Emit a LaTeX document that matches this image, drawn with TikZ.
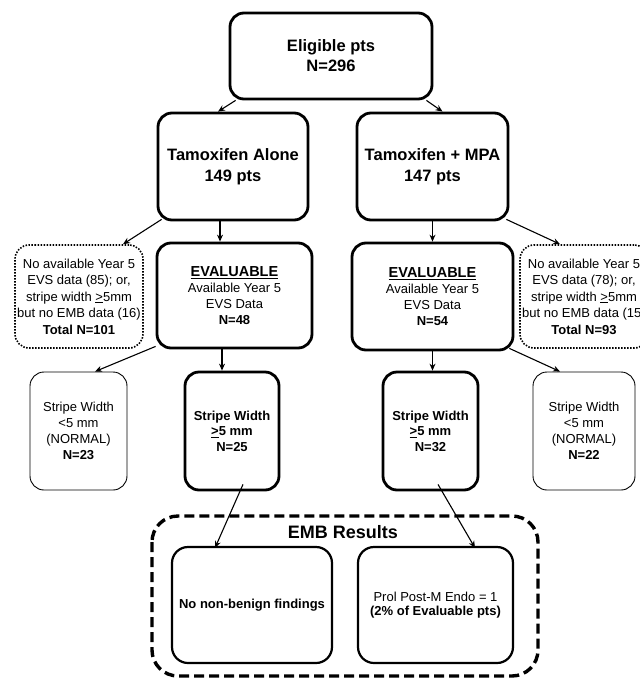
\documentclass[tikz,border=0pt]{standalone}
\usepackage{fontspec}
\setmainfont{Liberation Sans}
\usetikzlibrary{arrows.meta}

\tikzset{
  box/.style={draw, line width=2.8pt, rounded corners=14pt, align=center, inner sep=0pt},
  thinbox/.style={draw, line width=0.9pt, rounded corners=14pt, align=center, inner sep=0pt},
  dotbox/.style={draw, line width=1.6pt, dash pattern=on 1.5pt off 1.5pt, rounded corners=14pt, align=center, inner sep=0pt},
  embbox/.style={draw, line width=2.2pt, rounded corners=16pt, align=center, inner sep=0pt},
  arr/.style={-{Stealth[length=7pt,width=6pt]}, line width=1.1pt}
}

\newcommand{\ulgt}{\underline{>}}

\begin{document}
\begin{tikzpicture}[x=1pt,y=-1pt]

  \useasboundingbox (0,0) rectangle (640,678);

  % Eligible
  \node[box, minimum width=202pt, minimum height=86pt, font=\fontsize{16.5}{20}\selectfont\bfseries]
    (elig) at (331,56) {Eligible pts\\N=296};

  % Arme
  \node[box, minimum width=150pt, minimum height=107pt, font=\fontsize{16.5}{21.5}\selectfont\bfseries]
    (alone) at (233,166.5) {Tamoxifen Alone\\149 pts};
  \node[box, minimum width=151pt, minimum height=107pt, font=\fontsize{16.5}{21.5}\selectfont\bfseries]
    (mpa) at (432.5,166.5) {Tamoxifen + MPA\\147 pts};

  % nicht auswertbar / auswertbar
  \node[dotbox, minimum width=128pt, minimum height=103pt, font=\fontsize{13}{16.5}\selectfont]
    (nodataL) at (79,296.5)
    {No available Year 5\\EVS data (85); or,\\stripe width \ulgt5mm\\but no EMB data (16)\\\textbf{Total N=101}};
  \node[box, minimum width=155pt, minimum height=105pt, font=\fontsize{13}{16}\selectfont]
    (evalL) at (234.5,295.5)
    {{\fontsize{14.5}{16}\selectfont\bfseries\underline{EVALUABLE}}\\Available Year 5\\EVS Data\\\textbf{N=48}};
  \node[box, minimum width=161pt, minimum height=107pt, font=\fontsize{13}{16}\selectfont]
    (evalR) at (432.5,296.5)
    {{\fontsize{14.5}{16}\selectfont\bfseries\underline{EVALUABLE}}\\Available Year 5\\EVS Data\\\textbf{N=54}};
  \node[dotbox, minimum width=128pt, minimum height=103pt, font=\fontsize{13}{16.5}\selectfont]
    (nodataR) at (584,296.5)
    {No available Year 5\\EVS data (78); or,\\stripe width \ulgt5mm\\but no EMB data (15)\\\textbf{Total N=93}};

  % Stripe Width
  \node[thinbox, minimum width=97pt, minimum height=118pt, font=\fontsize{13}{16}\selectfont]
    (normL) at (78.5,431) {Stripe Width\\<5 mm\\(NORMAL)\\\textbf{N=23}};
  \node[box, minimum width=94pt, minimum height=118pt, font=\fontsize{13}{15.5}\selectfont\bfseries]
    (stripeL) at (232,431) {Stripe Width\\\ulgt5 mm\\N=25};
  \node[box, minimum width=95pt, minimum height=118pt, font=\fontsize{13}{15.5}\selectfont\bfseries]
    (stripeR) at (430.5,431) {Stripe Width\\\ulgt5 mm\\N=32};
  \node[thinbox, minimum width=102pt, minimum height=118pt, font=\fontsize{13}{16}\selectfont]
    (normR) at (584,431) {Stripe Width\\<5 mm\\(NORMAL)\\\textbf{N=22}};

  % EMB Ergebnisse
  \draw[line width=3.4pt, dash pattern=on 10pt off 5pt, rounded corners=26pt]
    (152,516) rectangle (538,676);
  \node[font=\fontsize{18}{20}\selectfont\bfseries] (embtitle) at (343,532) {EMB Results};
  \node[embbox, minimum width=160pt, minimum height=116pt, font=\fontsize{13}{14.5}\selectfont\bfseries]
    (benign) at (252,605) {No non-benign findings};
  \node[embbox, minimum width=155pt, minimum height=116pt, font=\fontsize{13}{14.5}\selectfont]
    (prol) at (435.5,605) {Prol Post-M Endo = 1\\\textbf{(2\% of Evaluable pts)}};

  % Pfeile
  \draw[arr] ([xshift=7pt]elig.south west) -- ([xshift=-15pt]alone.north);
  \draw[arr] ([xshift=-7pt]elig.south east) -- ([xshift=10pt]mpa.north);

  \draw[arr] ([xshift=5pt,yshift=2pt]alone.south west) -- ([xshift=44pt]nodataL.north);
  \draw[arr] ([xshift=-13pt]alone.south) -- ([xshift=-13pt]alone.south |- evalL.north);
  \draw[arr] (mpa.south) -- (mpa.south |- evalR.north);
  \draw[arr] ([xshift=-3pt,yshift=2pt]mpa.south east) -- ([xshift=-24pt]nodataR.north);

  \draw[arr] ([yshift=3pt]evalL.south west) -- ([xshift=16.5pt]normL.north);
  \draw[arr] ([xshift=-12.5pt]evalL.south) -- ([xshift=-12.5pt]evalL.south |- stripeL.north);
  \draw[arr] (evalR.south) -- (evalR.south |- stripeR.north);
  \draw[arr] ([xshift=-5pt,yshift=3pt]evalR.south east) -- ([xshift=-24pt]normR.north);

  \draw[arr] ([xshift=11pt,yshift=7pt]stripeL.south) -- ([xshift=-37pt,yshift=-2pt]benign.north);
  \draw[arr] ([xshift=7.5pt,yshift=7pt]stripeR.south) -- ([xshift=39.5pt,yshift=-2pt]prol.north);

\end{tikzpicture}
\end{document}
